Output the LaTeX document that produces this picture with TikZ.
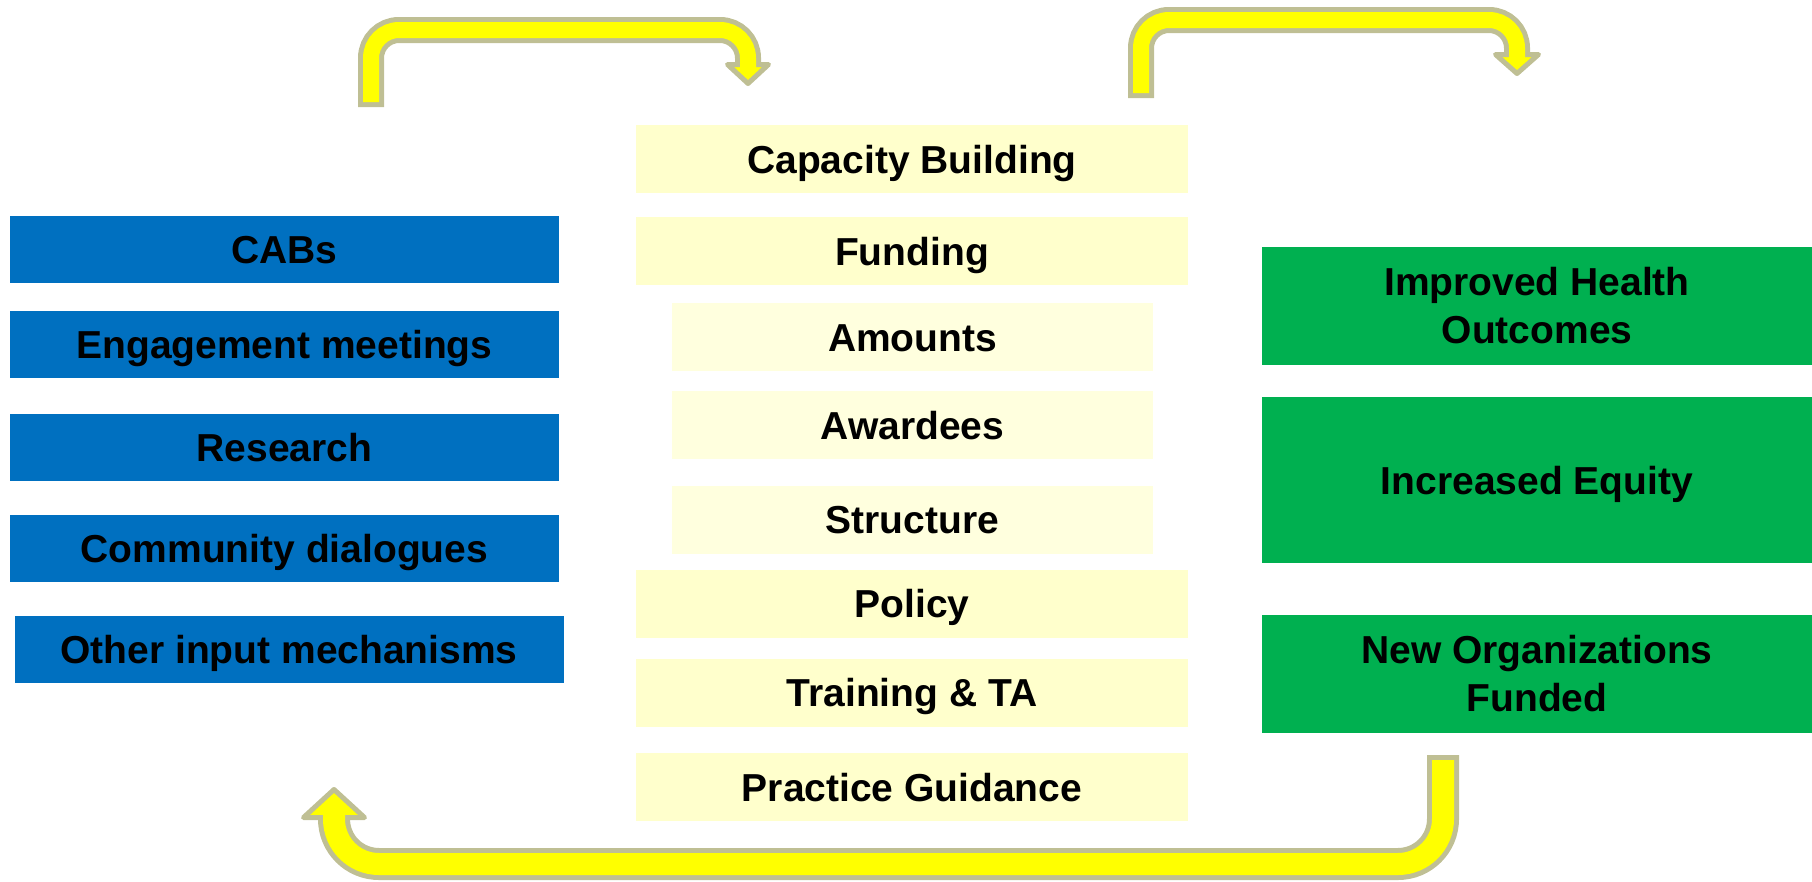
\documentclass[tikz,border=0pt]{standalone}
\usepackage{fontspec}
\setmainfont{Liberation Sans}
\usepackage{tikz}
\usetikzlibrary{shapes, positioning}

\definecolor{inblue}{HTML}{0070C0}
\definecolor{outgreen}{HTML}{00B050}
\definecolor{paleyellow}{HTML}{FFFFCC}
\definecolor{paleryellow}{HTML}{FFFFDE}
\definecolor{arrowyellow}{HTML}{FFFF00}
\definecolor{arrowrim}{HTML}{BFBF94}

\begin{document}
\begin{tikzpicture}[x=1pt, y=-1pt]
      \tikzstyle{every node}=[font=\fontsize{39}{48}\selectfont\bfseries, inner sep=0pt, align=center]
      \tikzstyle{oneline}=[text height=28, text depth=0]
      \tikzstyle{input}=[rectangle, oneline, fill=inblue, minimum width=549, minimum height=67]
      \tikzstyle{lever}=[rectangle, oneline, fill=paleyellow, minimum width=552, minimum height=68]
      \tikzstyle{sublever}=[rectangle, oneline, fill=paleryellow, minimum width=481, minimum height=68]
      \tikzstyle{outcome}=[rectangle, fill=outgreen, minimum width=550, minimum height=118]
      \tikzstyle{rim}=[draw=arrowrim, line width=26]
      \tikzstyle{core}=[draw=arrowyellow, line width=16, shorten <=5, shorten >=-4]
      \tikzstyle{headshape}=[draw=arrowrim, fill=arrowyellow, line width=5, line join=round]
      \useasboundingbox (0,0) rectangle (1812,881);
      % inputs
      \node [input] (cabs) at (284.5,249) {CABs};
      \node [input] (meetings) at (284.5,344) {Engagement meetings};
      \node [input] (research) at (284.5,447) {Research};
      \node [input] (dialogues) at (284.5,548) {Community dialogues};
      \node [input] (otherinput) at (289,649) {Other input mechanisms};
      % levers
      \node [lever] (capacity) at (912,159) {Capacity Building};
      \node [lever] (funding) at (912,251) {Funding};
      \node [sublever] (amounts) at (912.5,337) {Amounts};
      \node [sublever] (awardees) at (912.5,425) {Awardees};
      \node [sublever] (structure) at (912.5,519.5) {Structure};
      \node [lever] (policy) at (912,603.5) {Policy};
      \node [lever] (training) at (912,692.5) {Training \& TA};
      \node [lever] (guidance) at (912,787) {Practice Guidance};
      % outcomes
      \node [outcome] (health) at (1537,306) {Improved Health\\Outcomes};
      \node [outcome, oneline, minimum height=166] (equity) at (1537,480) {Increased Equity};
      \node [outcome] (neworgs) at (1537,674) {New Organizations\\Funded};
      % loop arrows
      \coordinate (loopAstart) at (371,107);
      \coordinate (loopAtop) at (560,30);
      \coordinate (loopAend) at (748,64.5);
      \coordinate (loopAtip) at (748,83.5);
      \coordinate (loopBstart) at (1141,98);
      \coordinate (loopBtop) at (1330,20);
      \coordinate (loopBend) at (1517,54.5);
      \coordinate (loopBtip) at (1517,73.5);
      \coordinate (loopCstart) at (1443,755);
      \coordinate (loopCbottom) at (900,864);
      \coordinate (loopCend) at (334,817.5);
      \coordinate (loopCtip) at (334,789.5);
      \draw [rim, rounded corners=28] (loopAstart) -- (loopAstart |- loopAtop) -- (loopAend |- loopAtop) -- (loopAend);
      \draw [headshape] (loopAend) ++(-20.5,0) -- ++(41,0) -- (loopAtip) -- cycle;
      \draw [core, rounded corners=28] (loopAstart) -- (loopAstart |- loopAtop) -- (loopAend |- loopAtop) -- (loopAend);
      \draw [rim, rounded corners=28] (loopBstart) -- (loopBstart |- loopBtop) -- (loopBend |- loopBtop) -- (loopBend);
      \draw [headshape] (loopBend) ++(-21.5,0) -- ++(43,0) -- (loopBtip) -- cycle;
      \draw [core, rounded corners=28] (loopBstart) -- (loopBstart |- loopBtop) -- (loopBend |- loopBtop) -- (loopBend);
      \draw [rim, line width=32, rounded corners=45] (loopCstart) -- (loopCstart |- loopCbottom) -- (loopCend |- loopCbottom) -- (loopCend);
      \draw [headshape] (loopCend) ++(-30.5,0) -- ++(61,0) -- (loopCtip) -- cycle;
      \draw [core, line width=22, rounded corners=45] (loopCstart) -- (loopCstart |- loopCbottom) -- (loopCend |- loopCbottom) -- (loopCend);
    \end{tikzpicture}
\end{document}
